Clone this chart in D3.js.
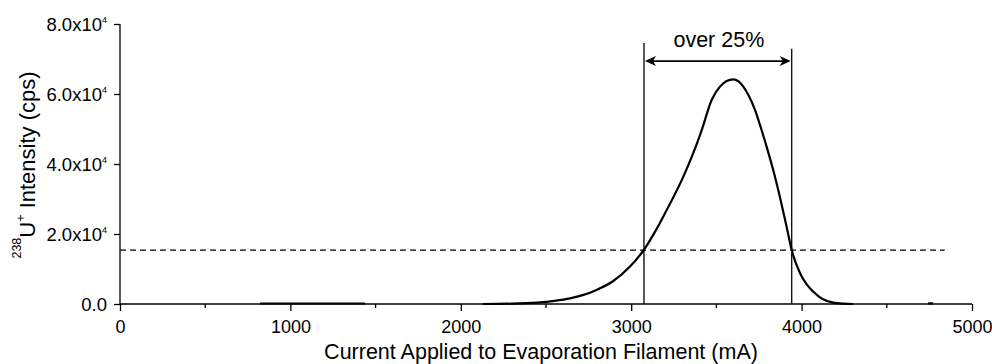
<!DOCTYPE html>
<html>
<head>
<meta charset="utf-8">
<script src="https://cdn.jsdelivr.net/npm/d3@7"></script>
<style>
  html, body { margin: 0; padding: 0; background: #fff; }
  svg { display: block; }
  text { font-family: "Liberation Sans", Arial, sans-serif; fill: #000; }
</style>
</head>
<body>
<svg id="chart" width="992" height="364"></svg>
<script>
// ---- data ----
const currentMA = [822, 1000, 1200, 1438, null,
  2130, 2300, 2447, 2550, 2641, 2720, 2800, 2893, 2993, 3075, 3151, 3198, 3306, 3360, 3414,
  3472, 3521, 3560, 3599, 3630, 3658, 3690, 3727, 3760, 3795, 3835, 3873, 3912, 3942,
  3991, 4030, 4069, 4120, 4186, 4250, 4302, null, 4742, 4771];
const intensityCps = [150, 150, 150, 150, null,
  0, 100, 400, 900, 1600, 2600, 4100, 6500, 10700, 15500, 21600, 25900, 36400, 42600, 49700,
  58300, 62100, 63700, 64200, 63600, 62100, 59500, 55400, 50500, 44900, 38000, 30500, 22100, 15400,
  8800, 5600, 3500, 1500, 400, 100, 0, null, 200, 200];
const xTicks = [0, 1000, 2000, 3000, 4000, 5000];
const xMinorTicks = [500, 1500, 2500, 3500, 4500];
const yTicks = [0, 20000, 40000, 60000, 80000];
const thresholdCps = 15400;          // 25% of peak (dashed line)
const thresholdEndMA = 4840;
const boundsMA = [3075, 3942];       // vertical markers
const boundTopsCps = [74600, 72900]; // top ends of the vertical markers
const arrowCps = 69400;
const labelCps = 73400;
const annotationText = "over 25%";

// ---- layout ----
const svg = d3.select("#chart");
const x = d3.scaleLinear().domain([0, 5000]).range([120, 972]);
const y = d3.scaleLinear().domain([0, 80000]).range([304, 24]);
const FONT = "Liberation Sans, Arial, sans-serif";

// threshold dashed line
svg.append("line")
  .attr("x1", x(0)).attr("x2", x(thresholdEndMA))
  .attr("y1", y(thresholdCps)).attr("y2", y(thresholdCps))
  .attr("stroke", "#000").attr("stroke-width", 1.3)
  .attr("stroke-dasharray", "6,4");

// vertical markers
svg.selectAll("line.bound").data(boundsMA).join("line")
  .attr("class", "bound")
  .attr("x1", d => x(d)).attr("x2", d => x(d))
  .attr("y1", (d, i) => y(boundTopsCps[i])).attr("y2", y(0))
  .attr("stroke", "#000").attr("stroke-width", 1.3);

// curve
const pts = currentMA.map((c, i) => [c, intensityCps[i]]);
const line = d3.line()
  .defined(d => d[0] !== null && d[1] !== null)
  .x(d => x(d[0])).y(d => y(d[1]))
  .curve(d3.curveMonotoneX);
svg.append("path").datum(pts)
  .attr("d", line)
  .attr("fill", "none").attr("stroke", "#000").attr("stroke-width", 2.2)
  .attr("stroke-linejoin", "round");

// axes
const xAxis = d3.axisBottom(x).tickValues(xTicks).tickSize(7).tickPadding(9).tickFormat(d3.format("d"));
const gx = svg.append("g").attr("transform", `translate(0,${y(0)})`).call(xAxis);
gx.selectAll(".tick line").attr("stroke-width", 1.3);
gx.select(".domain").attr("stroke-width", 1.3).attr("d", `M${x(0)},0H${x(5000)}`);
gx.selectAll("text").attr("font-size", 18).attr("font-family", FONT).attr("fill", "#000");
svg.append("g").attr("transform", `translate(0,${y(0)})`)
  .selectAll("line").data(xMinorTicks).join("line")
  .attr("x1", d => x(d)).attr("x2", d => x(d)).attr("y1", 0).attr("y2", 4)
  .attr("stroke", "#000").attr("stroke-width", 1.3);

const yAxis = d3.axisLeft(y).tickValues(yTicks).tickSize(6).tickPadding(6).tickFormat(() => "");
const gy = svg.append("g").attr("transform", `translate(${x(0)},0)`).call(yAxis);
gy.selectAll(".tick line").attr("stroke-width", 1.3);
gy.select(".domain").attr("stroke-width", 1.3).attr("d", `M0,${y(80000)}V${y(0)}`);
gy.selectAll(".tick text").each(function(d) {
  const t = d3.select(this)
    .attr("font-size", 18.5).attr("font-family", FONT)
    .attr("fill", "#000").attr("x", -13).attr("dy", "0.36em");
  if (d === 0) {
    t.text("0.0");
  } else {
    t.append("tspan").text((d / 10000).toFixed(1) + "x10");
    t.append("tspan").text("4").attr("font-size", 9).attr("dy", "-8");
  }
});

// axis titles
svg.append("text")
  .attr("x", 541).attr("y", 359)
  .attr("text-anchor", "middle").attr("font-size", 21.5)
  .text("Current Applied to Evaporation Filament (mA)");

const yt = svg.append("text")
  .attr("transform", `translate(35,165) rotate(-90)`)
  .attr("text-anchor", "middle").attr("font-size", 22);
yt.append("tspan").text("238").attr("font-size", 12.5).attr("dy", "-14");
yt.append("tspan").text("U").attr("dy", "14");
yt.append("tspan").text("+").attr("font-size", 12.5).attr("dy", "-10");
yt.append("tspan").text(" Intensity (cps)").attr("dy", "10");

// annotation arrow
const ax1 = x(boundsMA[0]), ax2 = x(boundsMA[1]), ay = y(arrowCps);
svg.append("line").attr("x1", ax1 + 4).attr("x2", ax2 - 4).attr("y1", ay).attr("y2", ay)
  .attr("stroke", "#000").attr("stroke-width", 1.6);
const head = (tipX, dir) => {
  const L = 11, H = 5, N = 3;
  return `M${tipX},${ay} L${tipX + dir * L},${ay - H} L${tipX + dir * (L - N)},${ay} L${tipX + dir * L},${ay + H} Z`;
};
svg.append("path").attr("d", head(ax1 + 1, 1)).attr("fill", "#000");
svg.append("path").attr("d", head(ax2 - 1, -1)).attr("fill", "#000");
svg.append("text")
  .attr("x", (ax1 + ax2) / 2 + 1).attr("y", y(labelCps))
  .attr("text-anchor", "middle").attr("font-size", 21.5)
  .text(annotationText);
</script>
</body>
</html>
